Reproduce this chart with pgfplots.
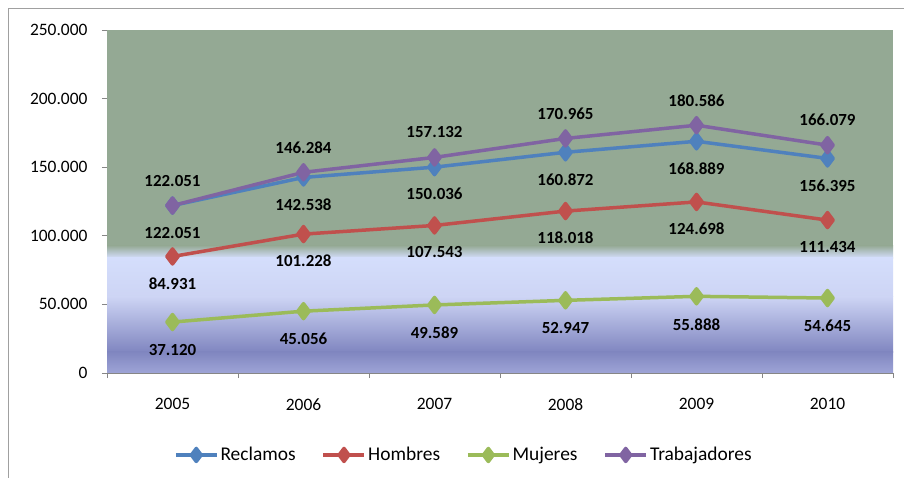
\documentclass[border=0pt]{standalone}
\usepackage{pgfplots}
\pgfplotsset{compat=1.18}
\usepackage{fontspec}
\setmainfont{Carlito}
\definecolor{cRec}{RGB}{79,129,189}
\definecolor{cHom}{RGB}{192,80,77}
\definecolor{cMuj}{RGB}{155,187,89}
\definecolor{cTra}{RGB}{128,100,162}
\definecolor{bgGreen}{RGB}{148,169,148}
\definecolor{bgLight}{RGB}{212,222,252}
\definecolor{bgMid}{RGB}{205,212,244}
\definecolor{bgDark}{RGB}{128,134,192}
\definecolor{bgBot}{RGB}{158,164,214}
\definecolor{axGray}{RGB}{134,134,134}
\definecolor{frameGray}{RGB}{160,160,160}
\begin{document}
\begin{tikzpicture}
\path[use as bounding box] (0bp,0bp) rectangle (904bp,478bp);
\draw[frameGray, line width=1.5bp] (8.5bp,-10bp) -- (8.5bp,469.5bp) -- (920bp,469.5bp);
\begin{axis}[
  at={(107bp,105bp)}, anchor=south west,
  scale only axis, width=786bp, height=343bp,
  xmin=-0.5, xmax=5.5, ymin=0, ymax=250000,
  axis x line*=bottom, axis y line*=left,
  axis line style={axGray, line width=0.8bp, -},
  xtick={0,1,2,3,4,5},
  xticklabels={2005,2006,2007,2008,2009,2010},
  major x tick style={draw=none},
  minor xtick={-0.5,0.5,1.5,2.5,3.5,4.5,5.5},
  minor x tick style={axGray, line width=0.8bp},
  ytick={0,50000,100000,150000,200000,250000},
  yticklabels={0,50.000,100.000,150.000,200.000,250.000},
  major y tick style={axGray, line width=0.8bp},
  tick align=outside,
  major tick length=5bp, minor tick length=5bp,
  scaled y ticks=false,
  ticklabel style={font=\fontsize{17.5}{20}\selectfont, text=black},
  xticklabel style={yshift=-17bp},
  yticklabel style={xshift=-11bp},
  point meta=explicit symbolic,
  nodes near coords,
  every node near coord/.append style={font=\bfseries\fontsize{17}{20}\selectfont, text=black, anchor=center},
  legend columns=4,
  legend style={draw=none, fill=none, at={(0.454,-0.239)}, anchor=center,
    font=\fontsize{19.5}{22}\selectfont,
    nodes={inner xsep=2bp},
    /tikz/every even column/.append style={column sep=24bp}},
  legend image code/.code={\draw[mark repeat=2,mark phase=2, mark size=6.5bp] plot coordinates {(0bp,0bp)(20.5bp,0bp)(41bp,0bp)};},
  every axis plot/.append style={line width=3.5bp, line join=round, mark=diamond*, mark size=7.5bp, mark options={solid}},
]
\fill[bgGreen] (axis cs:-0.5,93000) rectangle (axis cs:5.5,250000);
\fill[top color=bgGreen, bottom color=bgLight] (axis cs:-0.5,83800) rectangle (axis cs:5.5,93100);
\fill[top color=bgLight, bottom color=bgMid] (axis cs:-0.5,55400) rectangle (axis cs:5.5,83900);
\fill[top color=bgMid, bottom color=bgDark] (axis cs:-0.5,15300) rectangle (axis cs:5.5,55500);
\fill[top color=bgDark, bottom color=bgBot] (axis cs:-0.5,0) rectangle (axis cs:5.5,15400);
\addplot[color=cRec, every node near coord/.append style={yshift=-27bp}] coordinates {(0,122051)[122.051] (1,142538)[142.538] (2,150036)[150.036] (3,160872)[160.872] (4,168889)[168.889] (5,156395)[156.395]};
\addlegendentry{Reclamos}
\addplot[color=cHom, every node near coord/.append style={yshift=-27bp}] coordinates {(0,84931)[84.931] (1,101228)[101.228] (2,107543)[107.543] (3,118018)[118.018] (4,124698)[124.698] (5,111434)[111.434]};
\addlegendentry{Hombres}
\addplot[color=cMuj, every node near coord/.append style={yshift=-28bp}] coordinates {(0,37120)[37.120] (1,45056)[45.056] (2,49589)[49.589] (3,52947)[52.947] (4,55888)[55.888] (5,54645)[54.645]};
\addlegendentry{Mujeres}
\addplot[color=cTra, every node near coord/.append style={yshift=25bp}] coordinates {(0,122051)[122.051] (1,146284)[146.284] (2,157132)[157.132] (3,170965)[170.965] (4,180586)[180.586] (5,166079)[166.079]};
\addlegendentry{Trabajadores}
\end{axis}
\end{tikzpicture}
\end{document}
